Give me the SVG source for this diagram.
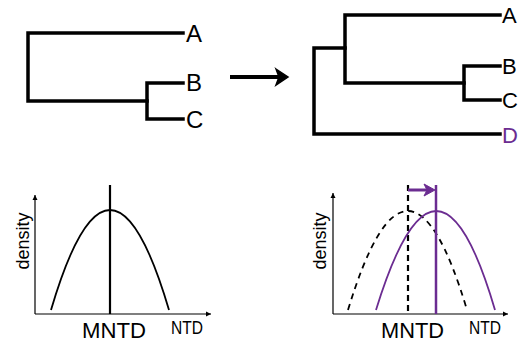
<svg xmlns="http://www.w3.org/2000/svg" width="523" height="345" viewBox="0 0 523 345">
<style>
.br{fill:none;stroke:#000;stroke-width:3.5;stroke-linecap:square;stroke-linejoin:miter}
.ax{fill:none;stroke:#000;stroke-width:1.2}
.lbl{font-family:"Liberation Sans",Arial,sans-serif;fill:#000}
</style>
<defs>
<marker id="axh" markerWidth="6" markerHeight="6" refX="5" refY="3" orient="auto" markerUnits="userSpaceOnUse">
<path d="M0,0.5 L5,3 L0,5.5 Z" fill="#000"/>
</marker>
</defs>
<rect width="523" height="345" fill="#fff"/>
<g id="tree-left">
<path class="br" d="M183,33 H28 V101 H147"/>
<path class="br" d="M183,83 H147 V119 H183"/>
<text class="lbl" x="186" y="41.5" font-size="24">A</text>
<text class="lbl" x="186" y="91" font-size="24">B</text>
<text class="lbl" x="186" y="127.5" font-size="24">C</text>
</g>
<g id="arrow-main">
<path d="M230,77 H284" stroke="#000" stroke-width="4" fill="none"/>
<path d="M276,69 L288,77 L276,85 L279,77 Z" fill="#000" stroke="#000" stroke-width="1.5" stroke-linejoin="miter"/>
</g>
<g id="tree-right">
<path class="br" d="M500,15 H345 V83 H464"/>
<path class="br" d="M345,48 H314 V134 H500"/>
<path class="br" d="M500,66 H464 V100 H500"/>
<text class="lbl" x="502" y="23" font-size="22">A</text>
<text class="lbl" x="502" y="74" font-size="22">B</text>
<text class="lbl" x="502" y="108" font-size="22">C</text>
<text class="lbl" x="502" y="142.5" font-size="22" style="fill:#6B2C91">D</text>
</g>
<g id="plot-left">
<path class="ax" d="M35,314 V195" marker-end="url(#axh)"/>
<path class="ax" d="M35,314 H211" marker-end="url(#axh)"/>
<path d="M51,310 Q110,110 169,310" fill="none" stroke="#000" stroke-width="1.8"/>
<path d="M110,185 V314" stroke="#000" stroke-width="2.2"/>
<text class="lbl" font-size="18" transform="translate(29,241) rotate(-90)" text-anchor="middle">density</text>
<text class="lbl" x="82" y="338" font-size="22" textLength="64" lengthAdjust="spacingAndGlyphs">MNTD</text>
<text class="lbl" x="171" y="334" font-size="19" textLength="32" lengthAdjust="spacingAndGlyphs">NTD</text>
</g>
<g id="plot-right">
<path class="ax" d="M333,314 V193" marker-end="url(#axh)"/>
<path class="ax" d="M333,314 H508" marker-end="url(#axh)"/>
<path d="M348,310 Q408,112 467,310" fill="none" stroke="#000" stroke-width="1.8" stroke-dasharray="6,5"/>
<path d="M408,185 V314" stroke="#000" stroke-width="2.2" stroke-dasharray="6,4"/>
<path d="M376,310 Q437,112 495,310" fill="none" stroke="#6B2C91" stroke-width="1.8"/>
<path d="M436,185 V314" stroke="#6B2C91" stroke-width="2.5"/>
<path d="M408,190 H430" stroke="#6B2C91" stroke-width="3" fill="none"/>
<path d="M424,184 L435,190 L424,196 L427,190 Z" fill="#6B2C91" stroke="#6B2C91" stroke-width="1"/>
<text class="lbl" font-size="18" transform="translate(326,241) rotate(-90)" text-anchor="middle">density</text>
<text class="lbl" x="381" y="338" font-size="22" textLength="63" lengthAdjust="spacingAndGlyphs">MNTD</text>
<text class="lbl" x="469" y="334" font-size="19" textLength="32" lengthAdjust="spacingAndGlyphs">NTD</text>
</g>
</svg>
